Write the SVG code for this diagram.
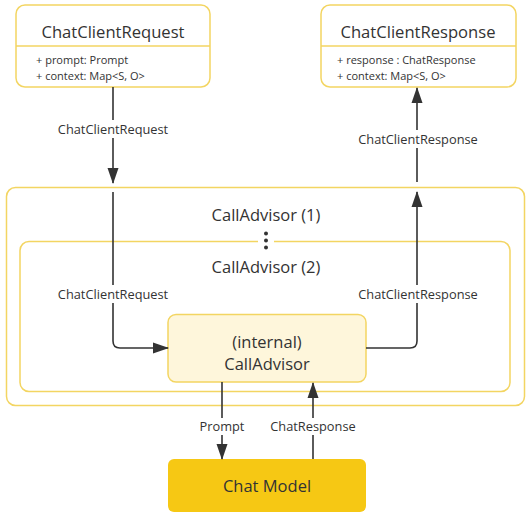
<svg xmlns="http://www.w3.org/2000/svg" width="532" height="515" viewBox="0 0 532 515">
<defs>
<marker id="ahl" markerWidth="16" markerHeight="12" refX="15" refY="6" orient="auto" markerUnits="userSpaceOnUse"><path d="M0,0.5 L16,6 L0,11.5 Z" fill="#333"/></marker>
</defs>
<style>
text{font-family:"Open Sans","Noto Sans","Liberation Sans",sans-serif;fill:#333;text-anchor:middle}
.box{fill:#fff;stroke:#F3D562;stroke-width:1.5}
.title{font-size:16.6px}
.attr{font-size:11px;text-anchor:start}
.lbl{font-size:12.8px}
.mid{font-size:16.5px}
.line{fill:none;stroke:#333;stroke-width:1.6}
.bg{fill:#fff}
</style>
<g id="outer-advisor">
<rect class="box" x="6.5" y="187.5" width="518" height="218" rx="9"/>
<text class="mid" x="266" y="221">CallAdvisor (1)</text>
</g>
<g id="inner-advisor">
<rect class="box" x="20" y="241.5" width="490" height="150" rx="9"/>
<rect class="bg" x="258" y="229" width="16" height="22"/>
<circle cx="266" cy="233.5" r="2" fill="#333"/>
<circle cx="266" cy="240.5" r="2" fill="#333"/>
<circle cx="266" cy="247.5" r="2" fill="#333"/>
<text class="mid" x="266" y="273">CallAdvisor (2)</text>
</g>
<g id="request">
<rect class="box" x="16" y="5" width="194" height="82" rx="9"/>
<line x1="16" y1="46" x2="210" y2="46" stroke="#F3D562" stroke-width="1.5"/>
<text class="title" x="113" y="38">ChatClientRequest</text>
<text class="attr" x="36" y="64">+ prompt: Prompt</text>
<text class="attr" x="36" y="80">+ context: Map&lt;S, O&gt;</text>
</g>
<g id="response">
<rect class="box" x="321" y="5" width="195" height="82" rx="9"/>
<line x1="321" y1="46" x2="516" y2="46" stroke="#F3D562" stroke-width="1.5"/>
<text class="title" x="418" y="38">ChatClientResponse</text>
<text class="attr" x="337" y="64">+ response : ChatResponse</text>
<text class="attr" x="337" y="80">+ context: Map&lt;S, O&gt;</text>
</g>
<g id="internal">
<rect x="168" y="314.5" width="198" height="67.5" rx="8" fill="#FEF6DB" stroke="#F3D562" stroke-width="1.5"/>
<text class="mid" x="267" y="348">(internal)</text>
<text class="mid" x="267" y="370">CallAdvisor</text>
</g>
<g id="chat-model">
<rect x="168" y="459" width="198" height="53" rx="6" fill="#F6C814"/>
<text x="267" y="491.5" style="font-size:16.5px">Chat Model</text>
</g>
<g id="connectors">
<line class="line" x1="113" y1="87" x2="113" y2="183" marker-end="url(#ahl)"/>
<rect class="bg" x="54" y="120" width="118" height="18"/>
<text class="lbl" x="113" y="133.5">ChatClientRequest</text>
<path class="line" d="M113,192 V341 Q113,348 120,348 H168" marker-end="url(#ahl)"/>
<rect class="bg" x="54" y="285" width="118" height="18"/>
<text class="lbl" x="113" y="298.5">ChatClientRequest</text>
<path class="line" d="M366,348 H410 Q417,348 417,341 V192" marker-end="url(#ahl)"/>
<rect class="bg" x="354" y="285" width="128" height="18"/>
<text class="lbl" x="418" y="298.5">ChatClientResponse</text>
<line class="line" x1="417" y1="182" x2="417" y2="88" marker-end="url(#ahl)"/>
<rect class="bg" x="354" y="130" width="128" height="18"/>
<text class="lbl" x="418" y="143.5">ChatClientResponse</text>
<line class="line" x1="222" y1="382" x2="222" y2="459" marker-end="url(#ahl)"/>
<rect class="bg" x="196" y="418" width="52" height="17"/>
<text class="lbl" x="222" y="430.5">Prompt</text>
<line class="line" x1="313" y1="459" x2="313" y2="383" marker-end="url(#ahl)"/>
<rect class="bg" x="265" y="418" width="96" height="17"/>
<text class="lbl" x="313" y="430.5">ChatResponse</text>
</g>
</svg>
